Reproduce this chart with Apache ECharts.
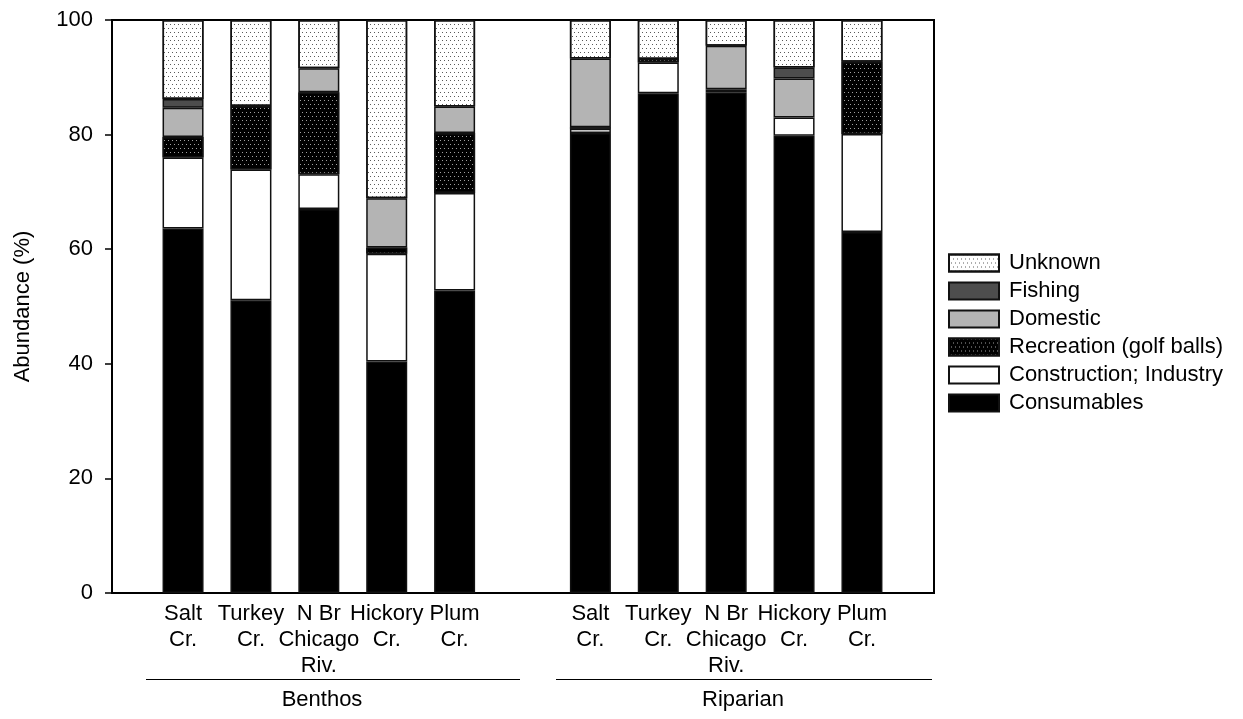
<!DOCTYPE html>
<html>
<head>
<meta charset="utf-8">
<script src="https://cdn.jsdelivr.net/npm/echarts@6/dist/echarts.min.js"></script>
<style>
html,body{margin:0;padding:0;background:#fff;}
#chart{width:1243px;height:719px;}
</style>
</head>
<body>
<div id="chart"></div>
<script>
// ---- data ----
var categories = ['Salt\nCr.', 'Turkey\nCr.', 'N Br\nChicago\nRiv.', 'Hickory\nCr.', 'Plum\nCr.', '',
                  'Salt\nCr.', 'Turkey\nCr.', 'N Br\nChicago\nRiv.', 'Hickory\nCr.', 'Plum\nCr.'];
var groupLabels = ['Benthos', 'Riparian'];
var yTicks = [0, 20, 40, 60, 80, 100];

// '-' = empty slot between the two groups
var consumables  = [63.6, 51.1, 67.0, 40.4, 52.8, '-', 80.3, 87.2, 87.4, 79.8, 63.0];
var construction = [12.4, 22.8,  6.1, 18.8, 17.0, '-',  0.7,  5.4,  0.5,  3.2, 17.1];
var recreation   = [ 3.6, 11.1, 14.3,  1.1, 10.5, '-',  0.3,  0.6,  0,    0,   12.6];
var domestic     = [ 5.1,  0,    4.2,  8.6,  4.6, '-', 12.0,  0,    7.6,  6.8,  0  ];
var fishing      = [ 1.5,  0,    0,    0,    0,   '-',  0,    0,    0,    1.9,  0  ];
var unknown      = [13.8, 15.0,  8.4, 31.1, 15.1, '-',  6.7,  6.8,  4.5,  8.3,  7.3];

var FONT = "'Liberation Sans', Arial, Helvetica, sans-serif";
var chart = echarts.init(document.getElementById('chart'), null, {renderer: 'canvas'});

function clean(vals) {
  return vals.map(function (v) { return v === 0 ? '-' : v; });
}
var border = {borderColor: '#111', borderWidth: 1.5};
function mk(name, vals, style) {
  return {
    name: name, type: 'bar', stack: 'total', barWidth: 41,
    xAxisIndex: 1, yAxisIndex: 1,
    data: clean(vals),
    itemStyle: Object.assign({}, border, style),
    emphasis: {disabled: true}
  };
}
var dotsLight = {symbol: 'rect', symbolSize: 1, dashArrayX: [[1, 3], [0, 2, 1, 1]], dashArrayY: [1, 3], color: '#5a5a5a'};
var dotsDark  = {symbol: 'rect', symbolSize: 1, dashArrayX: [[1, 3], [0, 2, 1, 1]], dashArrayY: [1, 3], color: '#a0a0a0'};

var option = {
  animation: false,
  textStyle: {fontFamily: FONT},
  grid: [
    {left: 112, right: 309, top: 20, bottom: 126, show: true, borderColor: '#000', borderWidth: 2, backgroundColor: 'transparent'},
    {left: 149.1, right: 347.1, top: 20, bottom: 126}
  ],
  legend: {
    orient: 'vertical', left: 943, top: 247,
    itemWidth: 50, itemHeight: 17, itemGap: 6, icon: 'rect',
    data: ['Unknown', 'Fishing', 'Domestic', 'Recreation (golf balls)', 'Construction; Industry', 'Consumables'],
    textStyle: {fontFamily: FONT, fontSize: 22, color: '#000', lineHeight: 22, padding: [0, 0, 0, 5]},
    selectedMode: false
  },
  xAxis: [
    {
      type: 'value', gridIndex: 0, min: 0, max: 1,
      splitLine: {show: false},
      axisLine: {show: true, lineStyle: {color: '#000', width: 2}},
      axisTick: {show: false}, axisLabel: {show: false}
    },
    {
      type: 'category', gridIndex: 1, data: categories, boundaryGap: true,
      axisLine: {show: false}, axisTick: {show: false},
      axisLabel: {interval: 0, fontFamily: FONT, fontSize: 22, color: '#000', lineHeight: 26, margin: 8, align: 'center'}
    }
  ],
  yAxis: [
    {
      type: 'value', gridIndex: 0, min: yTicks[0], max: yTicks[yTicks.length - 1], interval: 20,
      name: 'Abundance (%)', nameLocation: 'middle', nameGap: 78,
      nameTextStyle: {fontFamily: FONT, fontSize: 22, color: '#000'},
      splitLine: {show: false},
      axisLine: {show: true, lineStyle: {color: '#000', width: 2}},
      axisTick: {show: true, length: 7, lineStyle: {color: '#000', width: 1.5}},
      axisLabel: {fontFamily: FONT, fontSize: 22, color: '#000', margin: 19}
    },
    {
      type: 'value', gridIndex: 1, min: yTicks[0], max: yTicks[yTicks.length - 1],
      show: false, splitLine: {show: false}
    }
  ],
  graphic: [
    {type: 'line', shape: {x1: 146, y1: 679.5, x2: 520, y2: 679.5}, style: {stroke: '#000', lineWidth: 1}},
    {type: 'line', shape: {x1: 556, y1: 679.5, x2: 932, y2: 679.5}, style: {stroke: '#000', lineWidth: 1}},
    {type: 'text', x: 322, y: 700, style: {text: groupLabels[0], font: '22px ' + FONT, fill: '#000', textAlign: 'center', textVerticalAlign: 'middle'}},
    {type: 'text', x: 743, y: 700, style: {text: groupLabels[1], font: '22px ' + FONT, fill: '#000', textAlign: 'center', textVerticalAlign: 'middle'}}
  ],
  series: [
    mk('Consumables', consumables, {color: '#000'}),
    mk('Construction; Industry', construction, {color: '#fff'}),
    mk('Recreation (golf balls)', recreation, {color: '#000', decal: dotsDark}),
    mk('Domestic', domestic, {color: '#b4b4b4'}),
    mk('Fishing', fishing, {color: '#4d4d4d'}),
    mk('Unknown', unknown, {color: '#fff', decal: dotsLight})
  ]
};
chart.setOption(option);
</script>
</body>
</html>
